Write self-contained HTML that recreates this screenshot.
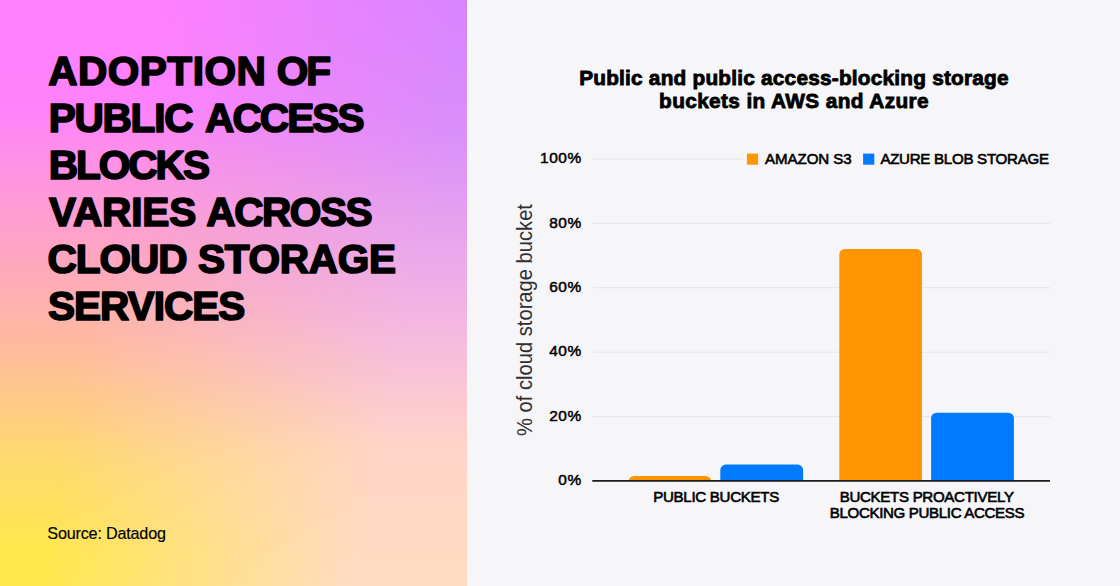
<!DOCTYPE html>
<html>
<head>
<meta charset="utf-8">
<title>Adoption of public access blocks</title>
<style>
html,body{margin:0;padding:0;}
body{width:1120px;height:586px;overflow:hidden;position:relative;background:#f6f6f9;font-family:"Liberation Sans",sans-serif;color:#000;}
.abs{position:absolute;white-space:nowrap;}
#left{position:absolute;left:0;top:0;width:467px;height:586px;overflow:hidden;
  background:linear-gradient(to bottom,#ff80ff 0%,#ff82fc 18%,#ff9ad8 34%,#ffa6c0 44%,#ffc098 62%,#ffdc6a 80%,#ffe84a 95%);}
#left .r{position:absolute;left:0;top:0;width:467px;height:586px;
  background:linear-gradient(to bottom,#d684ff 0%,#da8efa 22%,#f4b6e2 55%,#ffd4c8 76%,#ffdcc2 100%);
  -webkit-mask-image:linear-gradient(101.7deg,transparent 0%,transparent 26%,#000 81%);
  mask-image:linear-gradient(101.7deg,transparent 0%,transparent 26%,#000 81%);}
.src{left:47.3px;top:523px;font-size:16.2px;line-height:20px;letter-spacing:-0.2px;-webkit-text-stroke:0.15px #000;}
.title{font-weight:bold;font-size:20.8px;line-height:23px;text-align:center;left:467.5px;width:653px;-webkit-text-stroke:0.85px #000;}
.yl{font-size:15.4px;line-height:18px;width:60px;left:521.9px;text-align:right;letter-spacing:0.65px;-webkit-text-stroke:0.5px #000;}
.xl{font-size:15.1px;line-height:16px;text-align:center;-webkit-text-stroke:0.6px #000;}
.lg{font-size:15.1px;line-height:18px;-webkit-text-stroke:0.6px #000;}
</style>
</head>
<body>
<div id="left"><div class="r"></div>
  <svg class="abs" id="hsvg" style="left:0;top:0" width="467" height="586" viewBox="0 0 467 586">
    <g font-family="Liberation Sans, sans-serif" font-weight="bold" font-size="40.6" fill="#000" stroke="#000" stroke-width="1.7" stroke-linejoin="round">
      <text x="48.13" y="85.2" letter-spacing="0.496">ADOPTION</text>
      <text x="276.71" y="85.2" letter-spacing="-2.135">OF</text>
      <text x="48.67" y="132.1" letter-spacing="-1.245">PUBLIC</text>
      <text x="205.03" y="132.1" letter-spacing="-1.905">ACCESS</text>
      <text x="48.67" y="179.2" letter-spacing="-1.998">BLOCKS</text>
      <text x="49.1" y="226.3" letter-spacing="-0.18">VARIES</text>
      <text x="206.33" y="226.3" letter-spacing="-1.461">ACROSS</text>
      <text x="47.51" y="273.3" letter-spacing="-1.079">CLOUD</text>
      <text x="198.11" y="273.3" letter-spacing="-0.34">STORAGE</text>
      <text x="48.01" y="320.3" letter-spacing="-1.027">SERVICES</text>
    </g>
  </svg>
  <div class="abs src" id="src">Source: Datadog</div>
</div>

<div class="abs title" style="top:65.9px;letter-spacing:0.22px" id="t1">Public and public access-blocking storage</div>
<div class="abs title" style="top:89px;letter-spacing:0.38px" id="t2">buckets in AWS and Azure</div>

<svg class="abs" id="chart" style="left:0;top:0" width="1120" height="586" viewBox="0 0 1120 586">
<g stroke="#e4e4e9" stroke-width="1" fill="none">
<path d="M592.5 159H742.6"/>
<path d="M592.5 223.3H1050"/>
<path d="M592.5 287.7H1050"/>
<path d="M592.5 352.2H1050"/>
<path d="M592.5 416.6H1050"/>
</g>
<path fill="#ff9500" d="M628.7 481.2A5.5 5.2 0 0 1 634.2 476H705.7A5.5 5.2 0 0 1 711.2 481.2Z"/>
<path fill="#007aff" d="M720.3 481.2V470.1A5.5 5.5 0 0 1 725.8 464.6H797.6A5.5 5.5 0 0 1 803.1 470.1V481.2Z"/>
<path fill="#ff9500" d="M839.3 481.2V254.4A5.5 5.5 0 0 1 844.8 248.9H916.5A5.5 5.5 0 0 1 922 254.4V481.2Z"/>
<path fill="#007aff" d="M931.1 481.2V418.2A5.5 5.5 0 0 1 936.6 412.7H1008.4A5.5 5.5 0 0 1 1013.9 418.2V481.2Z"/>
<path d="M592.3 480.9H1050" stroke="#1c1c1c" stroke-width="1.7" fill="none"/>
<rect x="746.9" y="153.6" width="11.2" height="11.1" fill="#ff9500"/>
<rect x="863.1" y="153.6" width="11.2" height="11.1" fill="#007aff"/>
</svg>
<div class="abs yl" style="top:149px" id="y100">100%</div>
<div class="abs yl" style="top:214px" id="y80">80%</div>
<div class="abs yl" style="top:278px" id="y60">60%</div>
<div class="abs yl" style="top:342px" id="y40">40%</div>
<div class="abs yl" style="top:407px" id="y20">20%</div>
<div class="abs yl" style="top:471px" id="y0">0%</div>

<div class="abs" id="ytitle" style="left:525px;top:320px;font-size:22px;line-height:22px;transform:translate(-50%,-50%) rotate(-90deg) scaleX(0.916);color:#303030;">% of cloud storage bucket</div>

<div class="abs lg" style="left:765px;top:150px;letter-spacing:-0.07px" id="lg1">AMAZON S3</div>
<div class="abs lg" style="left:880.4px;top:150px;letter-spacing:-0.28px" id="lg2">AZURE BLOB STORAGE</div>

<div class="abs xl" style="left:616.1px;width:200px;top:489px;letter-spacing:-0.3px" id="x1">PUBLIC BUCKETS</div>
<div class="abs xl" style="left:776.7px;width:300px;top:489px;letter-spacing:-0.32px" id="x2">BUCKETS PROACTIVELY</div>
<div class="abs xl" style="left:777px;width:300px;top:505px;letter-spacing:-0.35px" id="x3">BLOCKING PUBLIC ACCESS</div>
</body>
</html>
